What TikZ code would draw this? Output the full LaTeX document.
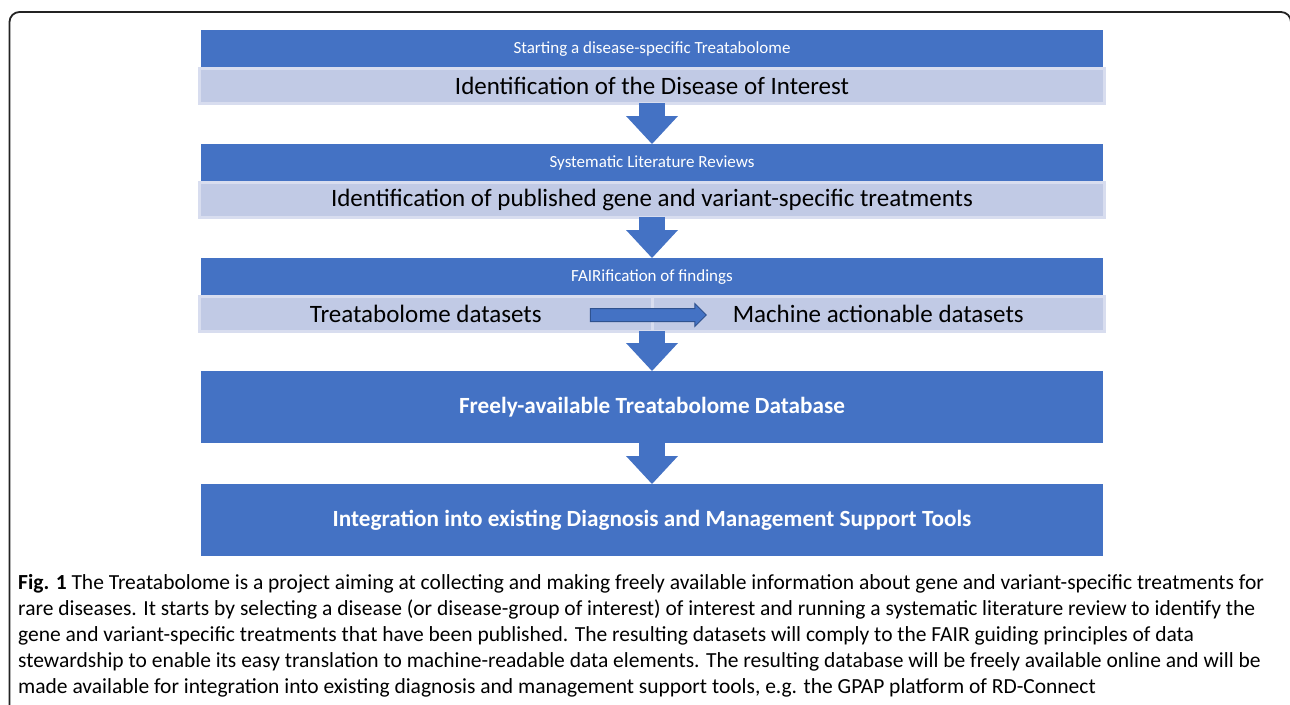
\documentclass[tikz,border=0pt]{standalone}
\usepackage{fontspec}
\setmainfont{Carlito}
\usetikzlibrary{shapes.arrows,arrows.meta,positioning,calc}

\definecolor{dkblue}{RGB}{68,114,196}
\definecolor{ltblue}{RGB}{193,202,229}
\definecolor{bandedge}{RGB}{216,221,239}
\definecolor{arrowedge}{RGB}{47,82,143}
\definecolor{framegray}{RGB}{35,35,35}

\begin{document}
\begin{tikzpicture}[
    x=1pt, y=-1pt,
    header/.style={rectangle, fill=dkblue, text=white, minimum width=902pt, minimum height=38pt, inner sep=0pt, outer sep=0pt, font=\fontsize{17}{20}\selectfont},
    band/.style={rectangle, fill=ltblue, draw=bandedge, line width=3pt, minimum width=905pt, minimum height=35pt, inner sep=0pt, outer sep=0pt, font=\fontsize{25}{28}\selectfont},
    halfband/.style={band, minimum width=452.5pt},
    bigbox/.style={rectangle, fill=dkblue, text=white, minimum width=902pt, minimum height=72pt, inner sep=0pt, outer sep=0pt, font=\bfseries\fontsize{23.2}{26}\selectfont},
    bigarrow/.style={draw=dkblue, line width=26pt, -{Triangle[width=52pt, length=28pt, line width=0pt]}},
    fairarrow/.style={single arrow, fill=dkblue, draw=arrowedge, line width=1pt, minimum height=116pt, single arrow head extend=5pt, inner xsep=0pt, inner ysep=6pt}
]

\useasboundingbox (0,0) rectangle (1290,704);
\clip (0,0) rectangle (1290,704);

% Outer frame
\draw[framegray, line width=1.8pt, rounded corners=10pt] (9.5,12) rectangle (1291,740);

% Step 1
\node[header] (hdr1) at (652,49) {Starting a disease-specific Treatabolome};
\node[band, below=0pt of hdr1] (band1) {Identification of the Disease of Interest};

% Step 2
\node[header, below=41pt of band1] (hdr2) {Systematic Literature Reviews};
\node[band, below=0pt of hdr2] (band2) {Identification of published gene and variant-specific treatments};

% Step 3
\node[header, below=41pt of band2] (hdr3) {FAIRification of findings};
\node[halfband, below left=0pt and 0pt of hdr3.south] (band3a) {Treatabolome datasets};
\node[halfband, below right=0pt and 0pt of hdr3.south] (band3b) {Machine actionable datasets};
\node[fairarrow] (fair) at (645,315) {};

% Steps 4 and 5
\node[bigbox, below=75pt of hdr3] (db) {Freely-available Treatabolome Database};
\node[bigbox, below=41pt of db] (tools) {Integration into existing Diagnosis and Management Support Tools};

% Arrows
\draw[bigarrow] (band1) -- (hdr2);
\draw[bigarrow] (band2) -- (hdr3);
\draw[bigarrow] (hdr3.south |- band3a.south) -- (db);
\draw[bigarrow] (db) -- (tools);

% Caption
\node[anchor=north west, align=left, inner sep=0pt, font=\fontsize{21.5}{26}\selectfont] (caption) at (18,574)
{\textbf{Fig. 1} The Treatabolome is a project aiming at collecting and making freely available information about gene and variant-specific treatments for\\
rare diseases. It starts by selecting a disease (or disease-group of interest) of interest and running a systematic literature review to identify the\\
gene and variant-specific treatments that have been published. The resulting datasets will comply to the FAIR guiding principles of data\\
stewardship to enable its easy translation to machine-readable data elements. The resulting database will be freely available online and will be\\
made available for integration into existing diagnosis and management support tools, e.g. the GPAP platform of RD-Connect};

\end{tikzpicture}
\end{document}
